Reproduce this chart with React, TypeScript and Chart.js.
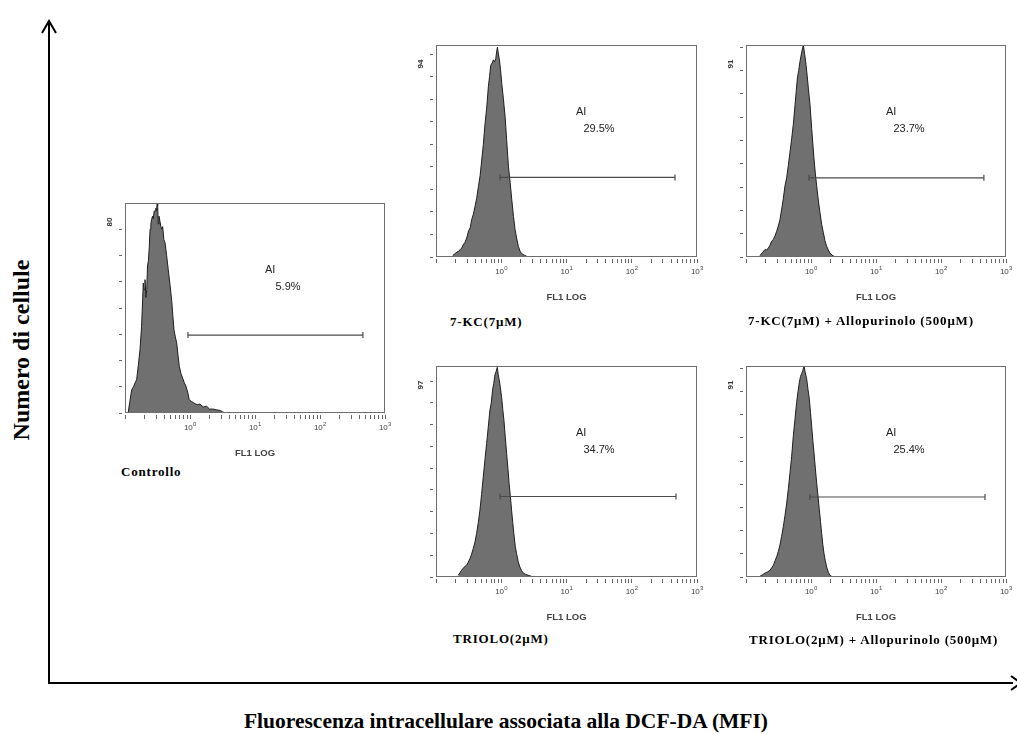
import React, { useEffect, useRef } from "react";
import { Chart, registerables } from "chart.js";

Chart.register(...registerables);
Chart.defaults.font.family = "'Liberation Sans', Arial, sans-serif";

// ---------- DATA ----------
// FL1 (log) channel values and cell counts
const ctrlFl1 = [0.112, 0.118, 0.127, 0.135, 0.143, 0.151, 0.160, 0.170, 0.180, 0.191, 0.197, 0.203, 0.210, 0.216, 0.222, 0.229, 0.236, 0.243, 0.250, 0.257, 0.265, 0.273, 0.281, 0.290, 0.298, 0.306, 0.312, 0.318, 0.325, 0.333, 0.345, 0.357, 0.368, 0.380, 0.396, 0.412, 0.437, 0.463, 0.492, 0.522, 0.545, 0.567, 0.595, 0.624, 0.654, 0.684, 0.727, 0.770, 0.818, 0.867, 0.92, 0.975, 1.04, 1.12, 1.2, 1.3, 1.42, 1.6, 1.8, 2.0, 2.28, 2.55, 2.89, 3.15, 3.45];
const ctrlCount = [0.2, 4, 8.9, 10, 11.5, 12.7, 18, 24, 33, 49.5, 47, 50.8, 44, 47, 56, 58, 63, 70, 72, 73.7, 75, 74, 77, 76.8, 78, 77, 80, 79, 72, 75, 73, 71, 70, 71, 66, 65, 60, 54.6, 49, 43, 37, 31.7, 29, 26.7, 22, 17.8, 15, 13.3, 11.5, 10.2, 8, 5, 4.5, 4, 3.5, 3.2, 3.4, 2.3, 2.6, 1.5, 1.5, 1.2, 1, 0.5, 0];

const kcFl1 = [0.180, 0.195, 0.210, 0.220, 0.234, 0.248, 0.262, 0.278, 0.296, 0.315, 0.334, 0.352, 0.374, 0.396, 0.420, 0.447, 0.474, 0.502, 0.532, 0.565, 0.598, 0.635, 0.662, 0.690, 0.725, 0.759, 0.790, 0.824, 0.850, 0.873, 0.905, 0.938, 0.975, 1.018, 1.08, 1.145, 1.21, 1.29, 1.37, 1.45, 1.54, 1.63, 1.73, 1.83, 1.95, 2.06, 2.25, 2.46];
const kcCount = [0.6, 1.5, 2.2, 2.5, 3.2, 4, 5.5, 6.5, 8.4, 11.5, 13, 16.5, 19, 22.4, 26, 31.3, 36, 43, 50, 59.3, 66, 75.6, 80, 85, 86, 87.4, 86.5, 88, 91, 93, 90, 87.4, 83, 77, 70, 62.3, 52, 40, 33, 25.4, 18, 12.1, 8, 4.7, 2.5, 1.5, 0.8, 0.3];

const kcAlloFl1 = [0.164, 0.180, 0.196, 0.208, 0.221, 0.234, 0.248, 0.263, 0.279, 0.296, 0.314, 0.333, 0.354, 0.375, 0.398, 0.422, 0.448, 0.475, 0.504, 0.535, 0.568, 0.592, 0.617, 0.646, 0.678, 0.720, 0.762, 0.800, 0.838, 0.872, 0.910, 0.966, 1.024, 1.065, 1.112, 1.165, 1.222, 1.30, 1.375, 1.46, 1.55, 1.64, 1.74, 1.85, 1.96, 2.1, 2.26];
const kcAlloCount = [0.6, 2, 3.2, 3, 3.9, 5, 6.8, 7.5, 9, 11, 13.3, 16, 20.5, 25, 30.6, 34, 39.3, 45, 50.8, 57, 65.3, 71, 76.8, 80, 84, 88, 91, 87, 82.6, 78, 72.5, 65.3, 55.2, 49, 42.2, 36, 30.6, 24, 19, 14, 10.4, 7, 4.6, 3, 1.7, 0.8, 0.3];

const triFl1 = [0.220, 0.233, 0.247, 0.260, 0.277, 0.294, 0.312, 0.331, 0.351, 0.372, 0.395, 0.419, 0.445, 0.471, 0.500, 0.530, 0.563, 0.597, 0.633, 0.671, 0.703, 0.736, 0.768, 0.800, 0.834, 0.869, 0.900, 0.931, 0.970, 1.01, 1.055, 1.10, 1.155, 1.21, 1.265, 1.32, 1.38, 1.44, 1.50, 1.56, 1.64, 1.72, 1.82, 1.93, 2.05, 2.17, 2.37, 2.59, 2.91];
const triCount = [0.8, 2, 3.1, 4, 4.8, 5.4, 6.8, 8.4, 10.5, 13, 16, 20, 25, 30.7, 38, 46, 54, 61.4, 69, 76.8, 80, 86, 89, 92.9, 94.5, 96.4, 93, 90.6, 87, 82.9, 77, 72, 64, 56.8, 50, 43, 37, 30.7, 25, 20, 14, 10.7, 7, 4.6, 3, 1.8, 1.2, 0.8, 0.3];

const triAlloFl1 = [0.164, 0.180, 0.196, 0.214, 0.234, 0.249, 0.264, 0.280, 0.296, 0.314, 0.333, 0.353, 0.375, 0.398, 0.423, 0.448, 0.475, 0.504, 0.535, 0.567, 0.601, 0.631, 0.662, 0.690, 0.718, 0.748, 0.780, 0.818, 0.857, 0.898, 0.942, 0.982, 1.023, 1.066, 1.112, 1.165, 1.222, 1.28, 1.343, 1.40, 1.459, 1.52, 1.585, 1.66, 1.742, 1.85, 1.96, 2.15];
const triAlloCount = [0.3, 1, 1.7, 2.2, 2.9, 4, 5.1, 7, 8.7, 11, 13.8, 17.5, 21.7, 26.5, 31.9, 38, 44.9, 52, 60.9, 68, 75.3, 80, 84, 86.5, 87.7, 89, 91, 88, 85.5, 81, 76.8, 71, 65.2, 59, 53.6, 47, 40.6, 35, 29, 24, 18.8, 14, 10.1, 7, 4.3, 2, 0.7, 0];

const panelNames = ["Controllo", "7-KC(7μM)", "7-KC(7μM) + Allopurinolo (500μM)", "TRIOLO(2μM)", "TRIOLO(2μM) + Allopurinolo (500μM)"];
const yMaxValues = [80, 94, 91, 97, 91];
const aiPercent = ["5.9%", "29.5%", "23.7%", "34.7%", "25.4%"];
const gateStart = [0.93, 0.96, 0.93, 0.96, 0.96];
const gateEnd = [457, 460, 457, 476, 475];
const gateLevel = [29.7, 35.3, 34, 37, 34.5];

const fl1TickValues = [0.1, 0.2, 0.3, 0.4, 0.5, 0.6, 0.7, 0.8, 0.9, 1, 2, 3, 4, 5, 6, 7, 8, 9, 10, 20, 30, 40, 50, 60, 70, 80, 90, 100, 200, 300, 400, 500, 600, 700, 800, 900, 1000];
const fl1LabelValues = [1, 10, 100, 1000];
const fl1LabelExponents = ["0", "1", "2", "3"];
const countTickValues = [0, 10, 20, 30, 40, 50, 60, 70, 80, 90];

const xTitle = "FL1 LOG";
const gateLabel = "AI";

const seriesX = [ctrlFl1, kcFl1, kcAlloFl1, triFl1, triAlloFl1];
const seriesY = [ctrlCount, kcCount, kcAlloCount, triCount, triAlloCount];

// ---------- LAYOUT ----------
const frames = [
  { L: 125, T: 203, R: 385, B: 413 },
  { L: 436, T: 45, R: 697, B: 257 },
  { L: 746, T: 45, R: 1006, B: 257 },
  { L: 436, T: 366, R: 697, B: 577 },
  { L: 746, T: 366, R: 1006, B: 577 },
];
const captionPos = [
  { x: 121, y: 471 },
  { x: 450, y: 321 },
  { x: 748, y: 320 },
  { x: 453, y: 638 },
  { x: 749, y: 639 },
];
const YW = 40, PT = 10, PR = 11, XH = 50;
const SANS = "'Liberation Sans', Arial, sans-serif";

function Panel({ i }: { i: number }) {
  const ref = useRef<HTMLCanvasElement>(null);
  const f = frames[i];
  const w = f.R - f.L + YW + PR;
  const h = f.B - f.T + PT + XH;
  useEffect(() => {
    const yMax = yMaxValues[i];
    const textPlugin = {
      id: "panelText" + i,
      afterDatasetsDraw(chart: any) {
        const { ctx, chartArea: a } = chart;
        ctx.save();
        ctx.strokeStyle = "#6e6e6e";
        ctx.lineWidth = 1;
        ctx.strokeRect(a.left + 0.5, a.top + 0.5, a.width - 1, a.height - 1);
        ctx.restore();
      },
      afterDraw(chart: any) {
        const { ctx, chartArea: a } = chart;
        const xs = chart.scales.x;
        // y max label
        ctx.save();
        ctx.fillStyle = "#333";
        ctx.font = "bold 8px " + SANS;
        ctx.textAlign = "center";
        ctx.textBaseline = "middle";
        ctx.translate(a.left - 15, a.top + 19);
        ctx.rotate(-Math.PI / 2);
        ctx.fillText(String(yMax), 0, 0);
        ctx.restore();

        // decade labels 10^n
        ctx.save();
        ctx.fillStyle = "#444";
        ctx.textBaseline = "alphabetic";
        ctx.textAlign = "left";
        fl1LabelValues.forEach((v, k) => {
          const px = xs.getPixelForValue(v);
          ctx.font = "8px " + SANS;
          const wb = ctx.measureText("10").width;
          ctx.font = "6px " + SANS;
          const we = ctx.measureText(fl1LabelExponents[k]).width;
          const x0 = px - (wb + we) / 2;
          ctx.font = "8px " + SANS;
          ctx.fillText("10", x0, a.bottom + 16.5);
          ctx.font = "6px " + SANS;
          ctx.fillText(fl1LabelExponents[k], x0 + wb + 0.3, a.bottom + 13);
        });
        ctx.restore();

        ctx.save();
        ctx.fillStyle = "#222";
        ctx.font = "11px " + SANS;
        ctx.textBaseline = "middle";
        ctx.textAlign = "left";
        ctx.fillText(gateLabel, a.left + 140, a.top + 67);
        ctx.textAlign = "center";
        ctx.fillText(aiPercent[i], a.left + 163, a.top + 84);
        ctx.fillStyle = "#444";
        ctx.font = "bold 9.5px " + SANS;
        ctx.fillText(xTitle, (a.left + a.right) / 2, a.bottom + 40);
        ctx.restore();
      },
    };
    const xv = seriesX[i];
    const yv = seriesY[i];
    const chart = new Chart(ref.current as HTMLCanvasElement, {
      type: "line",
      data: {
        datasets: [
          {
            data: xv.map((x, k) => ({ x, y: yv[k] })),
            borderColor: "#1e1e1e",
            borderWidth: 1,
            backgroundColor: "#707070",
            fill: "origin",
            pointRadius: 0,
            tension: 0,
            order: 2,
          },
          {
            data: [
              { x: gateStart[i], y: gateLevel[i] },
              { x: gateEnd[i], y: gateLevel[i] },
            ],
            borderColor: "#4a4a4a",
            borderWidth: 1.2,
            fill: false,
            pointStyle: "line",
            rotation: 90,
            pointRadius: 3,
            pointBorderColor: "#4a4a4a",
            pointBorderWidth: 1.2,
            tension: 0,
            order: 1,
          },
        ],
      } as any,
      options: {
        animation: false,
        responsive: false,
        maintainAspectRatio: false,
        devicePixelRatio: 1,
        layout: { padding: { top: PT, right: PR, left: 0, bottom: 0 } },
        plugins: { legend: { display: false }, tooltip: { enabled: false } },
        scales: {
          x: {
            type: "logarithmic",
            min: 0.1,
            max: 1000,
            afterBuildTicks: (s: any) => {
              s.ticks = fl1TickValues.map((v) => ({ value: v }));
            },
            afterFit: (s: any) => {
              s.height = XH;
            },
            ticks: {
              autoSkip: false,
              maxRotation: 0,
              minRotation: 0,
              callback: () => "",
            },
            grid: {
              drawOnChartArea: false,
              drawTicks: true,
              tickLength: 6,
              color: "#666",
              tickBorderDash: [4, 2],
              tickBorderDashOffset: 4,
            },
            border: { display: false },
          },
          y: {
            type: "linear",
            min: 0,
            max: yMax,
            afterBuildTicks: (s: any) => {
              s.ticks = countTickValues.filter((v) => v < yMax).map((v) => ({ value: v }));
            },
            afterFit: (s: any) => {
              s.width = YW;
            },
            ticks: { display: false },
            grid: {
              drawOnChartArea: false,
              drawTicks: true,
              tickLength: 6,
              color: "#666",
              tickBorderDash: [3, 3],
              tickBorderDashOffset: 0,
            },
            border: { display: false },
          },
        },
      } as any,
      plugins: [textPlugin],
    });
    return () => chart.destroy();
  }, [i]);
  return (
    <canvas
      ref={ref}
      width={w}
      height={h}
      style={{ position: "absolute", left: f.L - YW, top: f.T - PT, width: w, height: h }}
    />
  );
}

const captionStyle: React.CSSProperties = {
  position: "absolute",
  fontFamily: "'Liberation Serif', 'Times New Roman', serif",
  fontWeight: "bold",
  fontSize: 13,
  letterSpacing: "0.8px",
  lineHeight: 1,
  whiteSpace: "nowrap",
  color: "#000",
  transform: "translateY(-50%)",
};

export default function App() {
  return (
    <div
      style={{
        position: "absolute",
        left: 0,
        top: 0,
        width: 1017,
        height: 734,
        background: "#fff",
        overflow: "hidden",
      }}
    >
      <svg width={1017} height={734} style={{ position: "absolute", left: 0, top: 0 }}>
        <g stroke="#000" strokeWidth={2} fill="none">
          <line x1={49} y1={683} x2={49} y2={21} />
          <polyline points="42,33 49,21 56,33" />
          <line x1={48} y1={683} x2={1013} y2={683} />
          <polyline points="1011,676 1021,683 1011,690" />
        </g>
      </svg>
      {frames.map((_, i) => (
        <Panel key={i} i={i} />
      ))}
      {panelNames.map((name, i) => (
        <div key={name} style={{ ...captionStyle, left: captionPos[i].x, top: captionPos[i].y }}>
          {name}
        </div>
      ))}
      <div
        style={{
          position: "absolute",
          left: 21,
          top: 350,
          transform: "translate(-50%, -50%) rotate(-90deg)",
          fontFamily: "'Liberation Serif', 'Times New Roman', serif",
          fontWeight: "bold",
          fontSize: 24,
          lineHeight: 1,
          whiteSpace: "nowrap",
        }}
      >
        Numero di cellule
      </div>
      <div
        style={{
          position: "absolute",
          left: 506,
          top: 722,
          transform: "translate(-50%, -50%)",
          fontFamily: "'Liberation Serif', 'Times New Roman', serif",
          fontWeight: "bold",
          fontSize: 21.5,
          lineHeight: 1,
          whiteSpace: "nowrap",
        }}
      >
        Fluorescenza intracellulare associata alla DCF-DA (MFI)
      </div>
    </div>
  );
}
